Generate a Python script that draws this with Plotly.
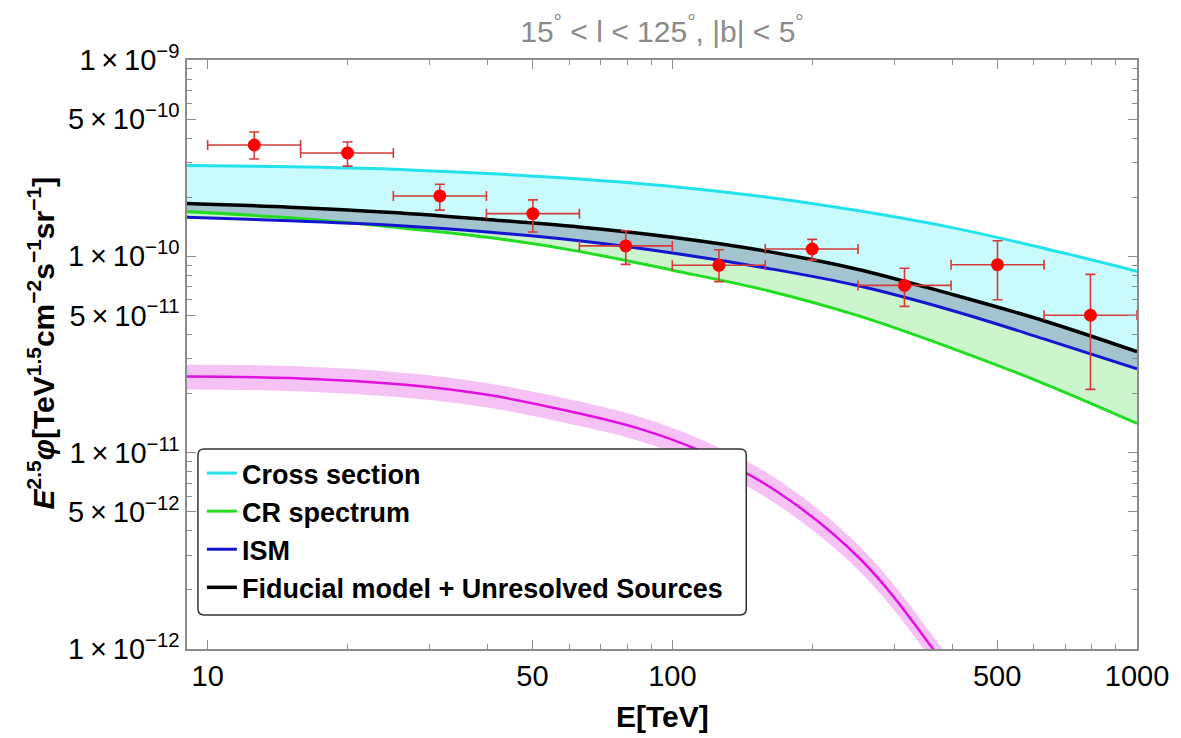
import plotly.graph_objects as go

# ---------------- data ----------------
E_grid = [9, 15, 25, 40, 63, 100, 160, 250, 400, 630, 1000]
cross_section = [2.90e-10, 2.86e-10, 2.78e-10, 2.64e-10, 2.48e-10, 2.27e-10, 2.00e-10, 1.71e-10, 1.40e-10, 1.10e-10, 8.4e-11]
fiducial = [1.86e-10, 1.78e-10, 1.67e-10, 1.54e-10, 1.41e-10, 1.25e-10, 1.06e-10, 8.6e-11, 6.4e-11, 4.7e-11, 3.27e-11]
ism = [1.58e-10, 1.52e-10, 1.44e-10, 1.33e-10, 1.20e-10, 1.04e-10, 8.7e-11, 7.1e-11, 5.3e-11, 3.8e-11, 2.67e-11]
cr_spectrum = [1.69e-10, 1.57e-10, 1.41e-10, 1.25e-10, 1.06e-10, 8.5e-11, 6.7e-11, 5.0e-11, 3.4e-11, 2.25e-11, 1.41e-11]

E_src = [9, 15, 27, 40, 57, 84.5, 115, 167, 255, 364, 450, 550]
src_mid = [2.44e-11, 2.40e-11, 2.21e-11, 1.97e-11, 1.67e-11, 1.33e-11, 1.02e-11, 6.4e-12, 2.84e-12, 1.0e-12, 4.7e-13, 2.0e-13]
src_up = [2.80e-11, 2.76e-11, 2.54e-11, 2.26e-11, 1.92e-11, 1.53e-11, 1.17e-11, 7.4e-12, 3.27e-12, 1.16e-12, 5.5e-13, 2.3e-13]
src_lo = [2.10e-11, 2.06e-11, 1.90e-11, 1.70e-11, 1.44e-11, 1.15e-11, 8.8e-12, 5.5e-12, 2.44e-12, 8.6e-13, 4.0e-13, 1.7e-13]

E_data = [12.6, 20.0, 31.6, 50.1, 79.4, 126, 200, 316, 501, 794]
E_lo = [10.0, 15.85, 25.1, 39.8, 63.1, 100, 158.5, 251, 398, 631]
E_hi = [15.85, 25.1, 39.8, 63.1, 100, 158.5, 251, 398, 631, 1000]
flux = [3.69e-10, 3.36e-10, 2.03e-10, 1.65e-10, 1.13e-10, 9.0e-11, 1.09e-10, 7.11e-11, 9.06e-11, 5.01e-11]
flux_hi = [4.30e-10, 3.82e-10, 2.33e-10, 1.94e-10, 1.35e-10, 1.08e-10, 1.22e-10, 8.69e-11, 1.20e-10, 8.09e-11]
flux_lo = [3.13e-10, 2.88e-10, 1.72e-10, 1.33e-10, 9.1e-11, 7.43e-11, 9.57e-11, 5.56e-11, 6.01e-11, 2.10e-11]

x_major = [10, 50, 100, 500, 1000]
x_minor = [20, 30, 40, 60, 70, 80, 90, 200, 300, 400, 600, 700, 800, 900]
y_major = [1e-9, 5e-10, 1e-10, 5e-11, 1e-11, 5e-12, 1e-12]
y_major_text = ["1\u2009×\u200910<sup>\u22129</sup>", "5\u2009×\u200910<sup>\u221210</sup>",
                "1\u2009×\u200910<sup>\u221210</sup>", "5\u2009×\u200910<sup>\u221211</sup>",
                "1\u2009×\u200910<sup>\u221211</sup>", "5\u2009×\u200910<sup>\u221212</sup>",
                "1\u2009×\u200910<sup>\u221212</sup>"]
y_minor = [m * 10.0 ** d for d in (-12, -11, -10) for m in (2, 3, 4, 6, 7, 8, 9)]

# ---------------- styles ----------------
C_CYAN, C_GREEN, C_BLUE, C_BLACK, C_MAG = "#22e2ec", "#22dd22", "#1515d0", "#000000", "#e010e0"
F_CYAN, F_STEEL, F_GREEN, F_MAG = "#c9fbfd", "#a3c3cf", "#cdf5cd", "#f6c2f6"
FONT = "Liberation Sans, Arial, sans-serif"

fig = go.Figure()

def band(x, lower, upper, fillcolor):
    fig.add_trace(go.Scatter(x=x, y=lower, mode="lines", line=dict(width=0, shape="spline"),
                             showlegend=False, hoverinfo="skip"))
    fig.add_trace(go.Scatter(x=x, y=upper, mode="lines", line=dict(width=0, shape="spline"),
                             fill="tonexty", fillcolor=fillcolor, showlegend=False, hoverinfo="skip"))

band(E_grid, fiducial, cross_section, F_CYAN)
band(E_grid, ism, fiducial, F_STEEL)
band(E_grid, cr_spectrum, ism, F_GREEN)
band(E_src, src_lo, src_up, F_MAG)

fig.add_trace(go.Scatter(x=E_src, y=src_mid, mode="lines", line=dict(color=C_MAG, width=2.5, shape="spline"),
                         showlegend=False))
fig.add_trace(go.Scatter(x=E_grid, y=cross_section, mode="lines", name="Cross section",
                         line=dict(color=C_CYAN, width=3, shape="spline")))
fig.add_trace(go.Scatter(x=E_grid, y=cr_spectrum, mode="lines", name="CR spectrum",
                         line=dict(color=C_GREEN, width=3, shape="spline")))
fig.add_trace(go.Scatter(x=E_grid, y=ism, mode="lines", name="ISM",
                         line=dict(color=C_BLUE, width=3, shape="spline")))
fig.add_trace(go.Scatter(x=E_grid, y=fiducial, mode="lines", name="Fiducial model + Unresolved Sources",
                         line=dict(color=C_BLACK, width=3.5, shape="spline")))

fig.add_trace(go.Scatter(
    x=E_data, y=flux, mode="markers", showlegend=False,
    marker=dict(color="#ff0000", size=13, line=dict(width=0)),
    error_x=dict(type="data", symmetric=False,
                 array=[h - e for h, e in zip(E_hi, E_data)],
                 arrayminus=[e - l for e, l in zip(E_data, E_lo)],
                 color="#d43a3a", thickness=1.6, width=5),
    error_y=dict(type="data", symmetric=False,
                 array=[h - f for h, f in zip(flux_hi, flux)],
                 arrayminus=[f - l for f, l in zip(flux, flux_lo)],
                 color="#d43a3a", thickness=1.6, width=5),
))

axis_common = dict(showline=True, mirror="allticks", linecolor="#8c8c8c", linewidth=1.5,
                   ticks="inside", ticklen=9, tickwidth=1.2, tickcolor="#8c8c8c",
                   showgrid=False, zeroline=False,
                   tickfont=dict(family=FONT, size=29, color="#000"))

fig.update_xaxes(type="log", range=[0.9556, 3.0], tickmode="array", tickvals=x_major,
                 ticktext=[str(v) for v in x_major],
                 minor=dict(tickmode="array", tickvals=x_minor, ticks="inside", ticklen=5,
                            tickcolor="#8c8c8c", tickwidth=1, showgrid=False),
                 **axis_common)
fig.update_yaxes(type="log", range=[-12, -9], tickmode="array", tickvals=y_major, ticktext=y_major_text,
                 minor=dict(tickmode="array", tickvals=y_minor, ticks="inside", ticklen=5,
                            tickcolor="#8c8c8c", tickwidth=1, showgrid=False),
                 **axis_common)

# rounded legend frame (paper coordinates)
lx0, lx1, ly0, ly1, rx, ry = 0.0115, 0.5887, 0.0577, 0.3396, 0.0065, 0.0105
legend_frame = (f"M {lx0+rx},{ly0} L {lx1-rx},{ly0} Q {lx1},{ly0} {lx1},{ly0+ry} "
                f"L {lx1},{ly1-ry} Q {lx1},{ly1} {lx1-rx},{ly1} "
                f"L {lx0+rx},{ly1} Q {lx0},{ly1} {lx0},{ly1-ry} "
                f"L {lx0},{ly0+ry} Q {lx0},{ly0} {lx0+rx},{ly0} Z")

# page body has an 8px margin: the figure is sized/margined so the plot box lands where the reference has it
fig.update_layout(
    width=1173, height=730,
    margin=dict(l=179, r=41, t=52, b=89),
    paper_bgcolor="white", plot_bgcolor="white",
    title=dict(text="15<sup>°</sup> &lt; l &lt; 125<sup>°</sup>, |b| &lt; 5<sup>°</sup>",
               x=0.5, xref="paper", xanchor="center", y=0.968, yref="container", yanchor="middle",
               font=dict(family=FONT, size=30, color="#8a8a8a")),
    legend=dict(x=0.0157, y=0.3396, xanchor="left", yanchor="top", traceorder="normal",
                bgcolor="rgba(0,0,0,0)", borderwidth=0,
                font=dict(family=FONT, size=27, color="#000", weight="bold"),
                itemwidth=30, tracegroupgap=0),
    shapes=[dict(type="path", path=legend_frame, xref="paper", yref="paper", layer="above",
                 fillcolor="white", line=dict(color="#333", width=1.5))],
    annotations=[
        dict(text="<b>E[TeV]</b>", xref="paper", yref="paper", x=0.5, y=-0.115,
             xanchor="center", yanchor="middle", showarrow=False,
             font=dict(family=FONT, size=30, color="#000")),
        dict(text="<b><i>E</i><sup>2.5</sup><i>φ</i>[TeV<sup>1.5</sup>cm<sup>\u22122</sup>s<sup>\u22121</sup>sr<sup>\u22121</sup>]</b>",
             xref="paper", yref="paper", x=-0.154, y=0.52, textangle=-90,
             xanchor="center", yanchor="middle", showarrow=False,
             font=dict(family=FONT, size=30, color="#000")),
    ],
)

fig.write_html("out.html")
